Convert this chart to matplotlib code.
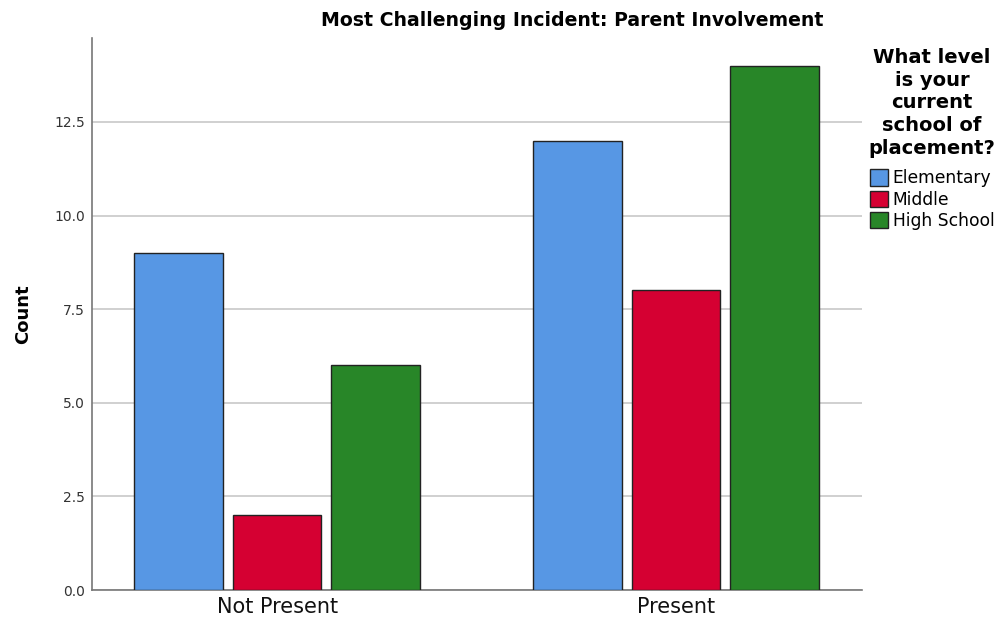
import numpy as np
import matplotlib
matplotlib.use("Agg")
import matplotlib.pyplot as plt
from matplotlib.patches import Patch

# data
categories = ["Not Present", "Present"]
levels = ["Elementary", "Middle", "High School"]
elementary = [9, 12]
middle = [2, 8]
high_school = [6, 14]
colors = ["#5797E4", "#D50032", "#288628"]

plt.rcParams['font.family'] = ['DejaVu Sans']

fig = plt.figure(figsize=(9.97, 6.22), dpi=100)
ax = fig.add_axes([92 / 997, 32 / 622, 770 / 997, 552 / 622])

x = np.arange(len(categories))
width = 0.222
step = 0.247
for i, (vals, c) in enumerate(zip([elementary, middle, high_school], colors)):
    ax.bar(x + (i - 1) * step, vals, width, color=c, edgecolor="#222222",
           linewidth=1.0, zorder=3)

ax.set_xlim(-0.464, 1.466)
ax.set_ylim(0, 14.74)
ax.set_yticks([0, 2.5, 5, 7.5, 10, 12.5])
ax.set_yticklabels(["0.0", "2.5", "5.0", "7.5", "10.0", "12.5"], fontsize=10, color="#333333")
ax.set_xticks(x)
ax.set_xticklabels(categories, fontsize=15, color="#111111")
ax.tick_params(axis="both", length=0, pad=5)
ax.yaxis.grid(True, color="#c8c8c8", linewidth=1.2, zorder=0)
ax.set_axisbelow(True)
for s in ["top", "right"]:
    ax.spines[s].set_visible(False)
for s in ["left", "bottom"]:
    ax.spines[s].set_color("#777777")
    ax.spines[s].set_linewidth(1.2)

ax.set_ylabel("Count", fontsize=13, fontweight="bold", labelpad=16)
fig.text(572 / 997, 1 - 20 / 622, "Most Challenging Incident: Parent Involvement",
         ha="center", va="center", fontsize=13.6, fontweight="bold")

handles = [Patch(facecolor=c, edgecolor="#222222", label=l) for c, l in zip(colors, levels)]
leg = fig.legend(handles=handles, title="What level\nis your\ncurrent\nschool of\nplacement?",
                 loc="upper center", bbox_to_anchor=(932 / 997, 1 - 48 / 622),
                 frameon=False, fontsize=12.3, handlelength=1.1, handleheight=1.1,
                 handletextpad=0.25, labelspacing=0.2, borderaxespad=0, borderpad=0)
ttl = leg.get_title()
ttl.set_fontweight("bold")
ttl.set_fontsize(14)
ttl.set_multialignment("center")
ttl.set_linespacing(1.25)
leg._legend_box.align = "center"
leg._legend_box.sep = 8

fig.savefig("out.png", dpi=100)
